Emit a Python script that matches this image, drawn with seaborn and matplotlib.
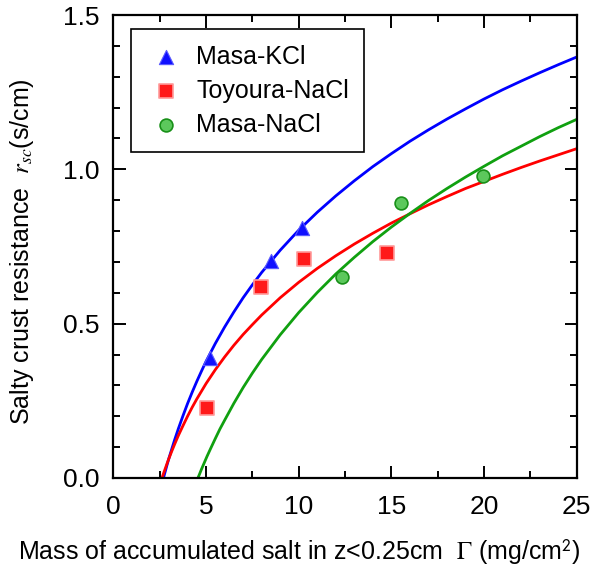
import numpy as np
import pandas as pd
import matplotlib
matplotlib.use("Agg")
import matplotlib.pyplot as plt
import seaborn as sns
from matplotlib.ticker import MultipleLocator

# measured points
kcl_x = [5.19, 8.48, 10.19]
kcl_y = [0.389, 0.702, 0.81]
toy_x = [5.05, 7.99, 10.28, 14.74]
toy_y = [0.228, 0.619, 0.708, 0.728]
nacl_x = [12.36, 15.52, 19.94]
nacl_y = [0.65, 0.89, 0.98]

# fitted curves
kcl_fit_x = [2.7, 2.8, 2.9, 3.0, 3.15, 3.3, 3.5, 3.75, 4.0, 4.25, 4.5, 4.75, 5, 5.5, 6, 6.5, 7,
             7.5, 8, 9, 10, 11, 12, 13, 14, 15, 16, 17, 18, 19, 20, 21, 22, 23, 24, 25]
kcl_fit_y = [0, 0.022, 0.044, 0.065, 0.094, 0.123, 0.159, 0.201, 0.241, 0.278, 0.313, 0.346,
             0.378, 0.436, 0.489, 0.538, 0.584, 0.626, 0.666, 0.738, 0.803, 0.861, 0.914,
             0.963, 1.009, 1.051, 1.091, 1.128, 1.163, 1.196, 1.228, 1.258, 1.286, 1.313,
             1.339, 1.364]
toy_fit_x = [2.62, 2.7, 2.8, 2.9, 3.0, 3.15, 3.3, 3.5, 3.75, 4.0, 4.25, 4.5, 4.75, 5, 5.5, 6,
             6.5, 7, 7.5, 8, 9, 10, 11, 12, 13, 14, 15, 16, 17, 18, 19, 20, 21, 22, 23, 24, 25]
toy_fit_y = [0, 0.014, 0.031, 0.048, 0.064, 0.087, 0.109, 0.137, 0.169, 0.200, 0.229, 0.256,
             0.281, 0.306, 0.351, 0.392, 0.430, 0.465, 0.497, 0.528, 0.584, 0.634, 0.679,
             0.720, 0.758, 0.793, 0.826, 0.856, 0.885, 0.912, 0.938, 0.961, 0.984, 1.006,
             1.027, 1.047, 1.067]
nacl_fit_x = [4.56, 4.65, 4.75, 4.9, 5.05, 5.25, 5.5, 5.75, 6, 6.5, 7, 7.5, 8, 9, 10, 11, 12,
              13, 14, 15, 16, 17, 18, 19, 20, 21, 22, 23, 24, 25]
nacl_fit_y = [0, 0.013, 0.028, 0.049, 0.070, 0.096, 0.128, 0.159, 0.187, 0.242, 0.293, 0.340,
              0.384, 0.464, 0.536, 0.601, 0.661, 0.715, 0.766, 0.813, 0.857, 0.899, 0.938,
              0.975, 1.010, 1.044, 1.075, 1.106, 1.135, 1.162]

sns.set_theme(style="ticks")
plt.rcParams['font.family'] = ['Liberation Sans', 'DejaVu Sans']
plt.rcParams['mathtext.fontset'] = 'stix'
plt.rcParams['text.color'] = 'black'
plt.rcParams['axes.labelcolor'] = 'black'
plt.rcParams['xtick.color'] = 'black'
plt.rcParams['ytick.color'] = 'black'

fig = plt.figure(figsize=(5.97, 5.68), dpi=100)
ax = fig.add_axes([0.19, 0.1585, 0.776, 0.815])

sns.lineplot(x=kcl_fit_x, y=kcl_fit_y, color='#0000ff', lw=2.0, sort=False, estimator=None, ax=ax)
sns.lineplot(x=toy_fit_x, y=toy_fit_y, color='#ff0000', lw=2.0, sort=False, estimator=None, ax=ax)
sns.lineplot(x=nacl_fit_x, y=nacl_fit_y, color='#10a010', lw=2.0, sort=False, estimator=None, ax=ax)

sns.scatterplot(x=kcl_x, y=kcl_y, marker='^', s=105, color='#1010ff', edgecolor='#5a5aff',
                linewidth=0.8, label='Masa-KCl', zorder=5, ax=ax)
sns.scatterplot(x=toy_x, y=toy_y, marker='s', s=90, color='#ff1a1a', edgecolor='#ff9a9a',
                linewidth=1.2, label='Toyoura-NaCl', zorder=5, ax=ax)
sns.scatterplot(x=nacl_x, y=nacl_y, marker='o', s=85, color='#5cc85c', edgecolor='#189018',
                linewidth=1.2, label='Masa-NaCl', zorder=5, ax=ax)

ax.set_xlim(0, 25)
ax.set_ylim(0, 1.5)
ax.xaxis.set_major_locator(MultipleLocator(5))
ax.xaxis.set_minor_locator(MultipleLocator(2.5))
ax.yaxis.set_major_locator(MultipleLocator(0.5))
ax.yaxis.set_minor_locator(MultipleLocator(0.1))
ax.yaxis.set_major_formatter(matplotlib.ticker.FormatStrFormatter('%.1f'))
ax.tick_params(which='both', direction='in', top=True, right=True, width=1.4, color='black',
               labelsize=19, labelcolor='black')
ax.tick_params(which='major', length=9)
ax.tick_params(which='minor', length=5)
ax.tick_params(axis='x', which='major', pad=12)
ax.tick_params(axis='y', which='major', pad=10)
for sp in ax.spines.values():
    sp.set_linewidth(1.6)
    sp.set_color('black')
    sp.set_visible(True)

ax.set_xlabel(r'Mass of accumulated salt in z<0.25cm  $\Gamma$ (mg/cm$^{\mathsf{2}}$)',
              fontsize=18, va='center')
ax.xaxis.set_label_coords(0.4, -0.16)
ax.set_ylabel(r'Salty crust resistance  $\mathit{r_{sc}}$(s/cm)', fontsize=18, va='center')
ax.yaxis.set_label_coords(-0.197, 0.488)

leg = ax.legend(loc='upper left', bbox_to_anchor=(0.037, 0.969), borderaxespad=0,
                fontsize=18, frameon=True, fancybox=False, edgecolor='black',
                handletextpad=0.4, borderpad=0.62, labelspacing=0.4, handlelength=1.6)
leg.get_frame().set_linewidth(1.2)
leg.get_frame().set_alpha(1)

fig.savefig('out.png', dpi=100)
